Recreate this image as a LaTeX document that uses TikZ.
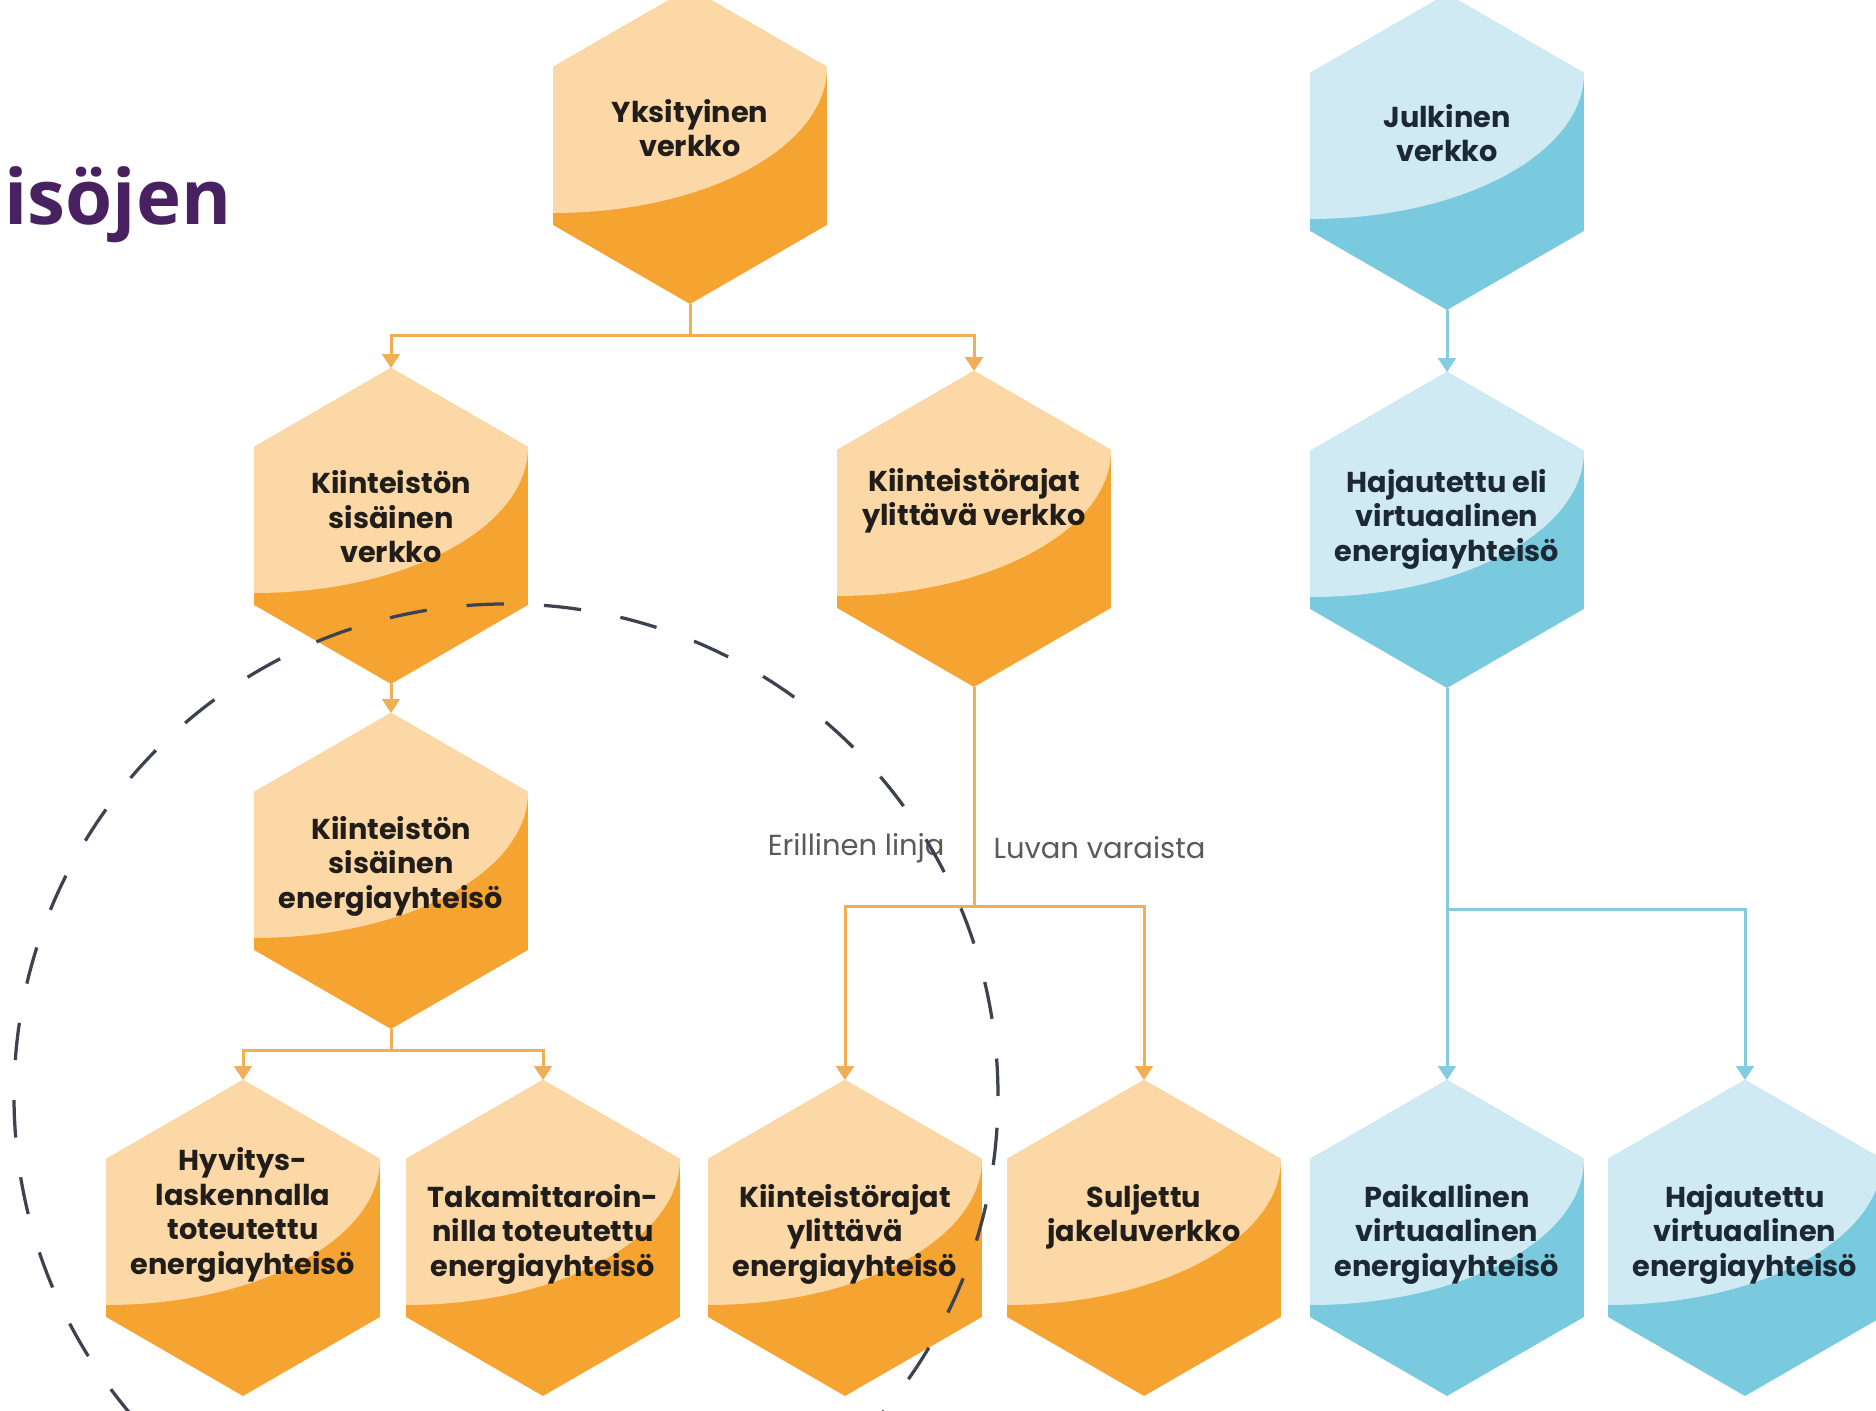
\documentclass[tikz,border=0pt]{standalone}
\usepackage{fontspec}
\setmainfont{Poppins}
\newfontfamily\titlefont{Open Sans}
\usetikzlibrary{arrows.meta,shapes.geometric,calc}
\definecolor{orD}{HTML}{F5A431}
\definecolor{orL}{HTML}{FBD8A5}
\definecolor{blD}{HTML}{79C9DF}
\definecolor{blL}{HTML}{CFEAF3}
\definecolor{orLine}{HTML}{F2AE55}
\definecolor{blLine}{HTML}{86CCE0}
\definecolor{txtD}{HTML}{211D1A}
\definecolor{txtB}{HTML}{1C2833}
\definecolor{lblG}{HTML}{5A5A5A}
\definecolor{ringC}{HTML}{3D4250}
\definecolor{titleP}{HTML}{4A2160}
\tikzset{
  hexbase/.style={regular polygon, regular polygon sides=6, shape border rotate=30,
    minimum size=126.4pt, inner sep=0pt, outer sep=0pt},
  lightcut/.style={path picture={
    \fill[#1] ([shift={(-150,67)}]path picture bounding box.center)
      -- ([shift={(-150,-200)}]path picture bounding box.center)
      -- ([shift={(150,-200)}]path picture bounding box.center)
      -- ([shift={(137,-79)}]path picture bounding box.center)
      .. controls ([shift={(137,2)}]path picture bounding box.center)
      and ([shift={(14,67)}]path picture bounding box.center)
      .. ([shift={(-137,67)}]path picture bounding box.center)
      -- cycle;}},
  ohex/.style={hexbase, fill=orD, lightcut=orL},
  bhex/.style={hexbase, fill=blD, lightcut=blL},
  htxt/.style={font=\bfseries\fontsize{11.5}{13.8}\selectfont, align=center, inner sep=0pt},
  otxt/.style={htxt, text=txtD},
  btxt/.style={htxt, text=txtB},
  oline/.style={draw=orLine, line width=1.2pt},
  oarrow/.style={oline, -{Triangle[length=5.5pt,width=7pt]}},
  bline/.style={draw=blLine, line width=1.2pt},
  barrow/.style={bline, -{Triangle[length=5.5pt,width=7pt]}},
  lbl/.style={font=\fontsize{11.6}{13}\selectfont, text=lblG, inner sep=0pt},
  ringstyle/.style={circle, draw=ringC, line width=1.3pt, dash pattern=on 15pt off 16pt,
    minimum size=393.6pt, inner sep=0pt},
}
\begin{document}
\begin{tikzpicture}[x=0.4pt,y=-0.4pt]
\useasboundingbox (0,0) rectangle (1876,1411);
\fill[white] (0,0) rectangle (1876,1411);
% title fragment
\node[font=\titlefont\bfseries\fontsize{30.5}{35}\selectfont, text=titleP, anchor=base west, inner sep=0pt] (title) at (4,225) {isöjen};
% hexagons
\node[ohex] (yks) at (690,146) {};
\node[bhex] (jul) at (1447,152) {};
\node[ohex] (ksv) at (391,526) {};
\node[ohex] (krv) at (974,529) {};
\node[bhex] (hev) at (1447,530) {};
\node[ohex] (kse) at (391,871) {};
\node[ohex] (hyv) at (243,1238) {};
\node[ohex] (tak) at (543,1238) {};
\node[ohex] (kre) at (845,1238) {};
\node[ohex] (sul) at (1144,1238) {};
\node[bhex] (pai) at (1447,1238) {};
\node[bhex] (haj) at (1745,1238) {};
% connectors
\draw[oline] (yks.270) -- ++(0,31) coordinate (j1);
\draw[oarrow] (j1) -| (ksv.90);
\draw[oarrow] (j1) -| (krv.90);
\draw[oarrow] (ksv.270) -- (kse.90);
\draw[oline] (kse.270) -- ++(0,21) coordinate (j2);
\draw[oarrow] (j2) -| (hyv.90);
\draw[oarrow] (j2) -| (tak.90);
\draw[oline] (krv.270) -- ++(0,219) coordinate (j3);
\draw[oarrow] (j3) -| (kre.90);
\draw[oarrow] (j3) -| (sul.90);
\draw[barrow] (jul.270) -- (hev.90);
\draw[bline] (hev.270) -- ++(0,221) coordinate (j4);
\draw[barrow] (j4) -| (pai.90);
\draw[barrow] (j4) -| (haj.90);
% texts
\node[otxt] (yks-t) at ($(yks)+(0,-18)$) {Yksityinen\\verkko};
\node[btxt] (jul-t) at ($(jul)+(0,-19)$) {Julkinen\\verkko};
\node[otxt] (ksv-t) at ($(ksv)+(0,-9)$) {Kiinteistön\\sisäinen\\verkko};
\node[otxt] (krv-t) at ($(krv)+(0,-28)$) {Kiinteistörajat\\ylittävä verkko};
\node[btxt] (hev-t) at ($(hev)+(0,-11)$) {Hajautettu eli\\virtuaalinen\\energiayhteisö};
\node[otxt] (kse-t) at ($(kse)+(0,-5)$) {Kiinteistön\\sisäinen\\energiayhteisö};
\node[otxt] (hyv-t) at ($(hyv)+(0,-23)$) {Hyvitys-\\laskennalla\\toteutettu\\energiayhteisö};
\node[otxt] (tak-t) at ($(tak)+(0,-4)$) {Takamittaroin-\\nilla toteutettu\\energiayhteisö};
\node[otxt] (kre-t) at ($(kre)+(0,-4)$) {Kiinteistörajat\\ylittävä\\energiayhteisö};
\node[otxt] (sul-t) at ($(sul)+(0,-21)$) {Suljettu\\jakeluverkko};
\node[btxt] (pai-t) at ($(pai)+(0,-4)$) {Paikallinen\\virtuaalinen\\energiayhteisö};
\node[btxt] (haj-t) at ($(haj)+(0,-4)$) {Hajautettu\\virtuaalinen\\energiayhteisö};
% labels
\node[lbl, anchor=east] (eri) at (945,848) {Erillinen linja};
\node[lbl, anchor=west] (luv) at (993,848) {Luvan varaista};
% dashed ring
\node[ringstyle] (ring) at (506,1096) {};
\end{tikzpicture}
\end{document}
